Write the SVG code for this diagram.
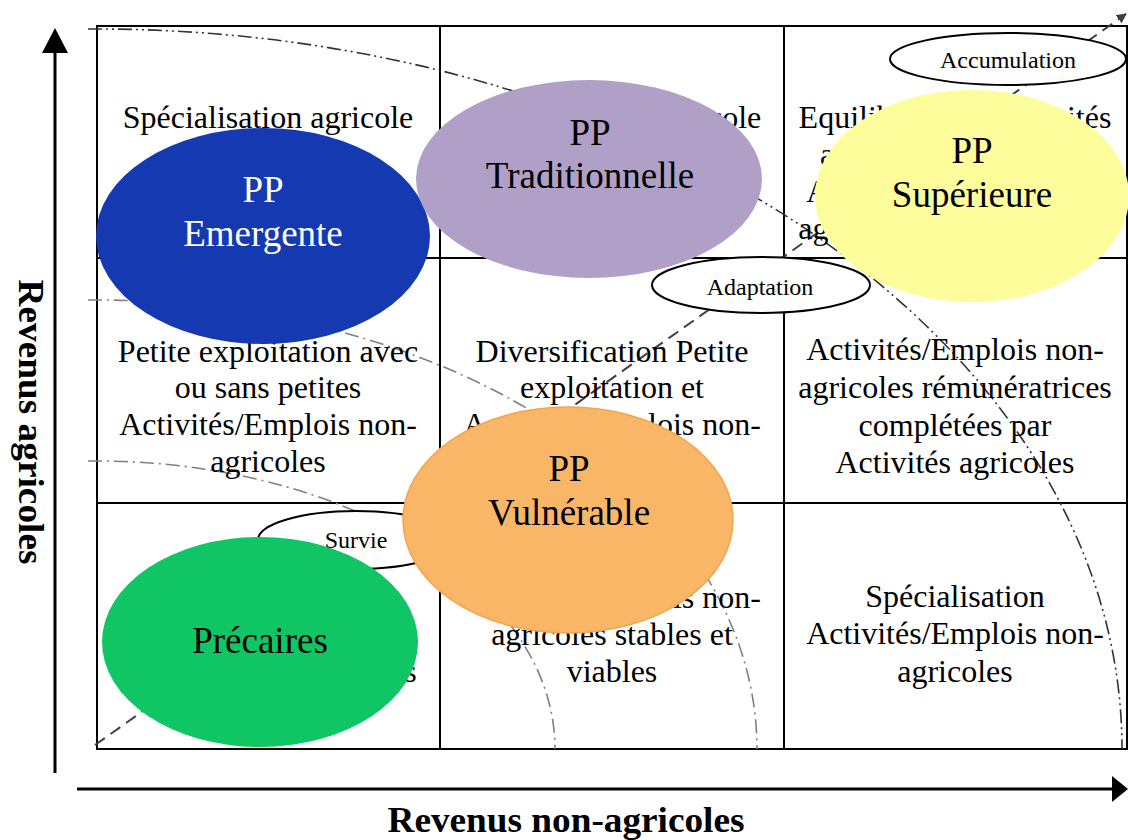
<svg xmlns="http://www.w3.org/2000/svg" width="1128" height="840" viewBox="0 0 1128 840">
<defs>
<style>
.cell{font-family:"Liberation Serif","Times New Roman",serif;font-size:32px;fill:#000;text-anchor:middle}
.big{font-family:"Liberation Serif","Times New Roman",serif;font-size:37px;text-anchor:middle}
.small{font-family:"Liberation Serif","Times New Roman",serif;font-size:24px;fill:#000;text-anchor:middle}
.axis{font-family:"Liberation Serif","Times New Roman",serif;font-size:36px;font-weight:bold;fill:#000;text-anchor:middle}
.grid{fill:none;stroke:#000;stroke-width:2}
.tag{fill:#fff;stroke:#000;stroke-width:2}
</style>
<marker id="ah" viewBox="0 0 10 10" refX="9" refY="5" markerWidth="10" markerHeight="10" orient="auto" markerUnits="userSpaceOnUse">
<path d="M0,0 L10,5 L0,10 Z" fill="#404040"/>
</marker>
</defs>
<rect width="1128" height="840" fill="#fff"/>

<g id="grid">
<rect class="grid" x="97" y="26" width="1030" height="723"/>
<line class="grid" x1="440" y1="26" x2="440" y2="749"/>
<line class="grid" x1="784" y1="26" x2="784" y2="749"/>
<line class="grid" x1="97" y1="258" x2="1127" y2="258"/>
<line class="grid" x1="97" y1="503" x2="1127" y2="503"/>
</g>

<g id="axes">
<line x1="55" y1="50" x2="55" y2="773" stroke="#000" stroke-width="3"/>
<path d="M55,28 L68,53 L42,53 Z" fill="#000"/>
<line x1="77" y1="789" x2="1114" y2="789" stroke="#000" stroke-width="3"/>
<path d="M1128,789 L1112,776 L1112,802 Z" fill="#000"/>
<text class="axis" x="566" y="832" textLength="357" lengthAdjust="spacingAndGlyphs">Revenus non-agricoles</text>
<text class="axis" transform="translate(19,422) rotate(90)" x="0" y="0" textLength="285" lengthAdjust="spacingAndGlyphs">Revenus agricoles</text>
</g>

<g id="connectors">
<path d="M88,29 L97,29 A1025,720 0 0 1 1122,749" fill="none" stroke="#333" stroke-width="1.6" stroke-dasharray="14 4 2 4 2 4"/>
<path d="M88,300 L97,300 A660,449 0 0 1 757,749" fill="none" stroke="#808080" stroke-width="1.6" stroke-dasharray="14 5 2 5"/>
<path d="M88,461 L97,461 A458,288 0 0 1 555,749" fill="none" stroke="#808080" stroke-width="1.6" stroke-dasharray="14 5 2 5"/>
<line x1="95" y1="745" x2="1126" y2="14" stroke="#404040" stroke-width="2" stroke-dasharray="12 7" marker-end="url(#ah)"/>
</g>

<g id="cells">
<text class="cell" x="268" y="128">Spécialisation agricole</text>
<text class="cell" x="616" y="128">Spécialisation agricole</text>
<text class="cell" x="955" y="128">Equilibre entre Activités</text>
<text class="cell" x="955" y="165">agricoles rentables et</text>
<text class="cell" x="955" y="202">Activités/Emplois non-</text>
<text class="cell" x="955" y="239">agricoles rémunératrices</text>
<text class="cell" x="268" y="362">Petite exploitation avec</text>
<text class="cell" x="268" y="398">ou sans petites</text>
<text class="cell" x="268" y="435">Activités/Emplois non-</text>
<text class="cell" x="268" y="472">agricoles</text>
<text class="cell" x="612" y="362">Diversification Petite</text>
<text class="cell" x="612" y="398">exploitation et</text>
<text class="cell" x="612" y="435">Activités/Emplois non-</text>
<text class="cell" x="612" y="472">agricoles</text>
<text class="cell" x="955" y="360">Activités/Emplois non-</text>
<text class="cell" x="955" y="398">agricoles rémunératrices</text>
<text class="cell" x="955" y="436">complétées par</text>
<text class="cell" x="955" y="473">Activités agricoles</text>
<text class="cell" x="268" y="682">non-agricoles précaires</text>
<text class="cell" x="612" y="608">Activités/Emplois non-</text>
<text class="cell" x="612" y="645">agricoles stables et</text>
<text class="cell" x="612" y="682">viables</text>
<text class="cell" x="955" y="607">Spécialisation</text>
<text class="cell" x="955" y="644">Activités/Emplois non-</text>
<text class="cell" x="955" y="682">agricoles</text>
</g>

<g id="survie">
<ellipse class="tag" cx="356" cy="540" rx="98" ry="29"/>
<text class="small" x="356" y="548">Survie</text>
</g>

<g id="emergente">
<ellipse cx="263" cy="236" rx="167" ry="108" fill="#1539B0"/>
<text class="big" x="263" y="202" fill="#fff">PP</text>
<text class="big" x="263" y="246" fill="#fff">Emergente</text>
</g>

<g id="traditionnelle">
<ellipse cx="589" cy="179" rx="173" ry="99" fill="#B0A0C8"/>
<text class="big" x="590" y="145" fill="#000">PP</text>
<text class="big" x="590" y="188" fill="#000">Traditionnelle</text>
</g>

<g id="superieure">
<ellipse cx="972" cy="196" rx="157" ry="106" fill="#FDFD9B"/>
<text class="big" x="972" y="163" fill="#000">PP</text>
<text class="big" x="972" y="207" fill="#000">Supérieure</text>
</g>

<g id="vulnerable">
<ellipse cx="568" cy="520" rx="165" ry="113" fill="#F9B666" stroke="#F3A54C" stroke-width="1.5"/>
<text class="big" x="569" y="481" fill="#000">PP</text>
<text class="big" x="569" y="525" fill="#000">Vulnérable</text>
</g>

<g id="precaires">
<ellipse cx="260" cy="642" rx="158" ry="105" fill="#10C563"/>
<text class="big" x="260" y="653" fill="#000">Précaires</text>
</g>

<g id="adaptation">
<ellipse class="tag" cx="761" cy="285" rx="109" ry="28"/>
<text class="small" x="760" y="295">Adaptation</text>
</g>

<g id="accumulation">
<ellipse class="tag" cx="1008" cy="59" rx="118" ry="26"/>
<text class="small" x="1008" y="68">Accumulation</text>
</g>
</svg>
